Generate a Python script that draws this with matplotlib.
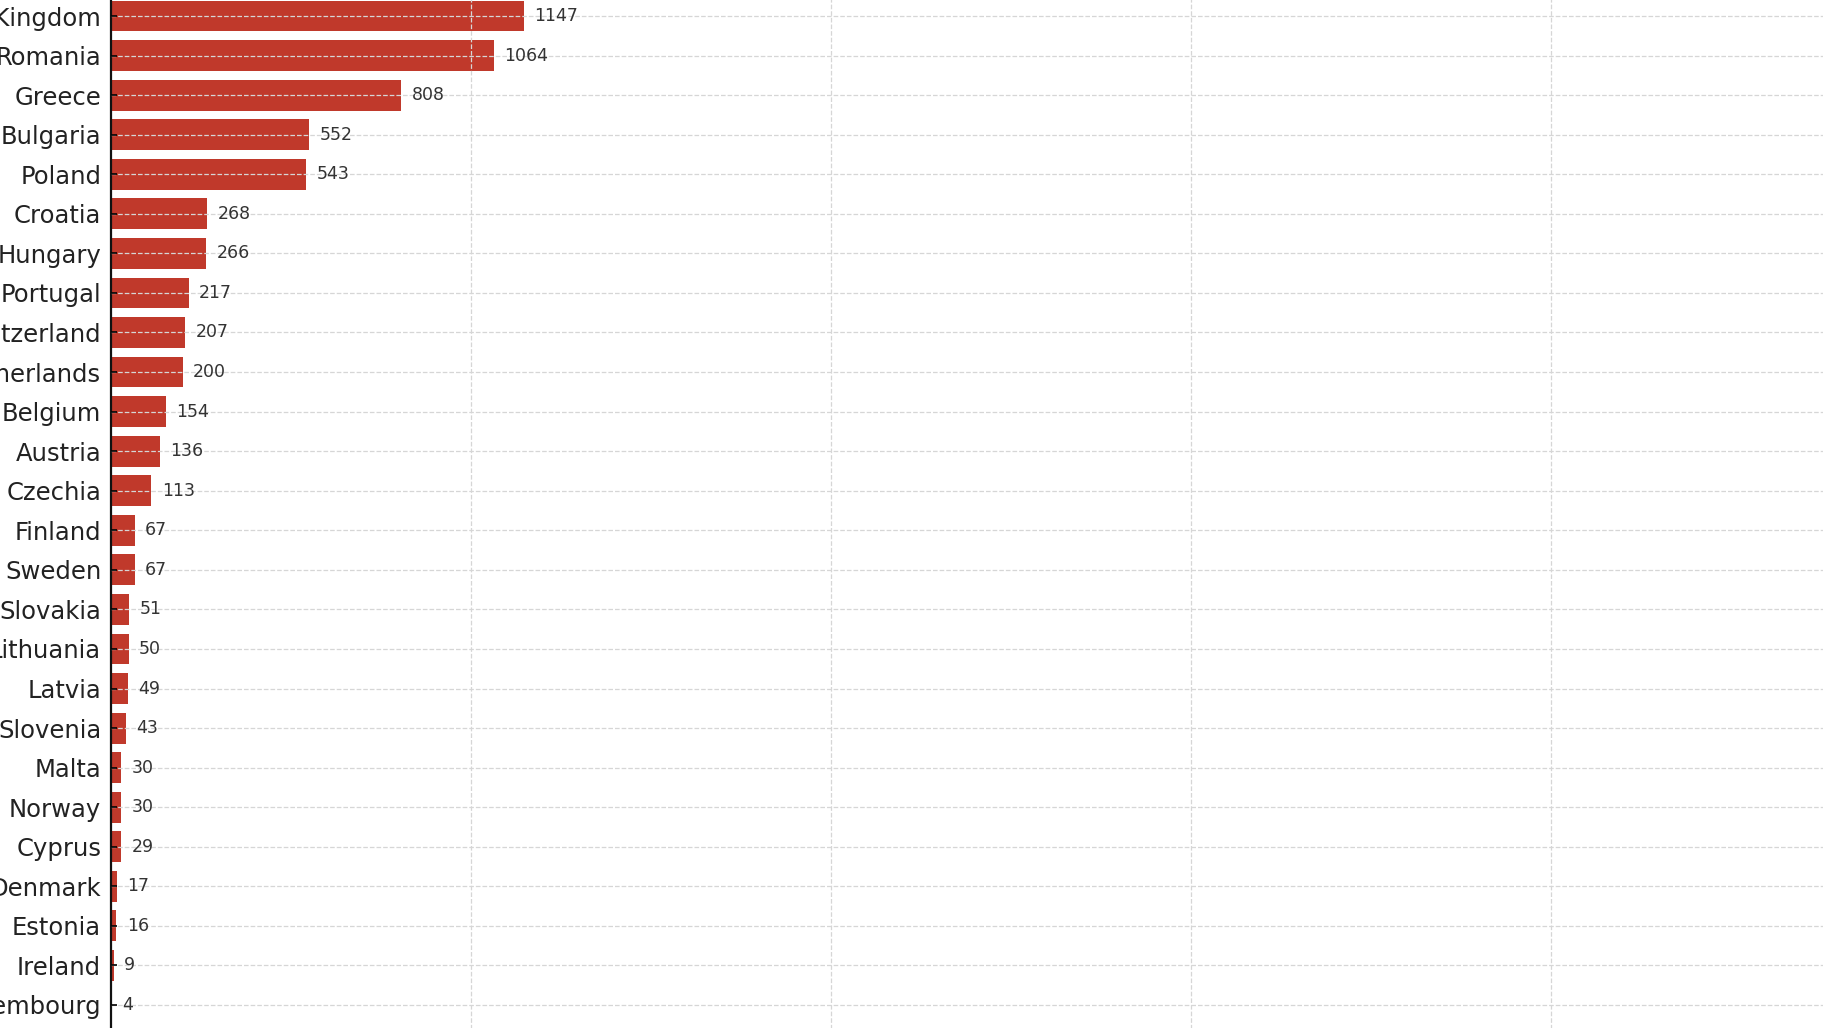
import matplotlib.pyplot as plt

countries = ['United Kingdom', 'Romania', 'Greece', 'Bulgaria', 'Poland', 'Croatia',
             'Hungary', 'Portugal', 'Switzerland', 'Netherlands', 'Belgium', 'Austria',
             'Czechia', 'Finland', 'Sweden', 'Slovakia', 'Lithuania', 'Latvia',
             'Slovenia', 'Malta', 'Norway', 'Cyprus', 'Denmark', 'Estonia',
             'Ireland', 'Luxembourg']
values = [1147, 1064, 808, 552, 543, 268, 266, 217, 207, 200, 154, 136, 113,
          67, 67, 51, 50, 49, 43, 30, 30, 29, 17, 16, 9, 4]

# bottom-up order for barh
countries = countries[::-1]
values = values[::-1]

fig = plt.figure(figsize=(18.24, 10.28), dpi=100)
# axes deliberately larger than the figure (the reference is a crop)
ax = fig.add_axes([0.0606, -0.0161, 0.987, 1.039])

ypos = list(range(len(countries)))
ax.barh(ypos, values, height=0.78, color='#c0392b')
for y, v in zip(ypos, values):
    ax.annotate(str(v), xy=(v, y), xytext=(7.5, 0), textcoords='offset points',
                va='center', ha='left', fontsize=12.5, color='#333333')

ax.set_yticks(ypos)
ax.set_yticklabels(countries, fontsize=17.5, color='#222222')
ax.set_xlim(0, 5000)
ax.set_ylim(-1, 26)
ax.set_xticks([1000, 2000, 3000, 4000])

ax.grid(True, linestyle='--', color='#d6d6d6', linewidth=0.9)
ax.set_axisbelow(False)
ax.tick_params(axis='y', direction='in', length=4, width=1.2, pad=6.7)
ax.tick_params(axis='x', length=0, labelbottom=False)

for side in ['top', 'right', 'bottom']:
    ax.spines[side].set_visible(False)
ax.spines['left'].set_linewidth(1.6)
ax.spines['left'].set_color('#111111')

fig.savefig('out.png', dpi=100)
